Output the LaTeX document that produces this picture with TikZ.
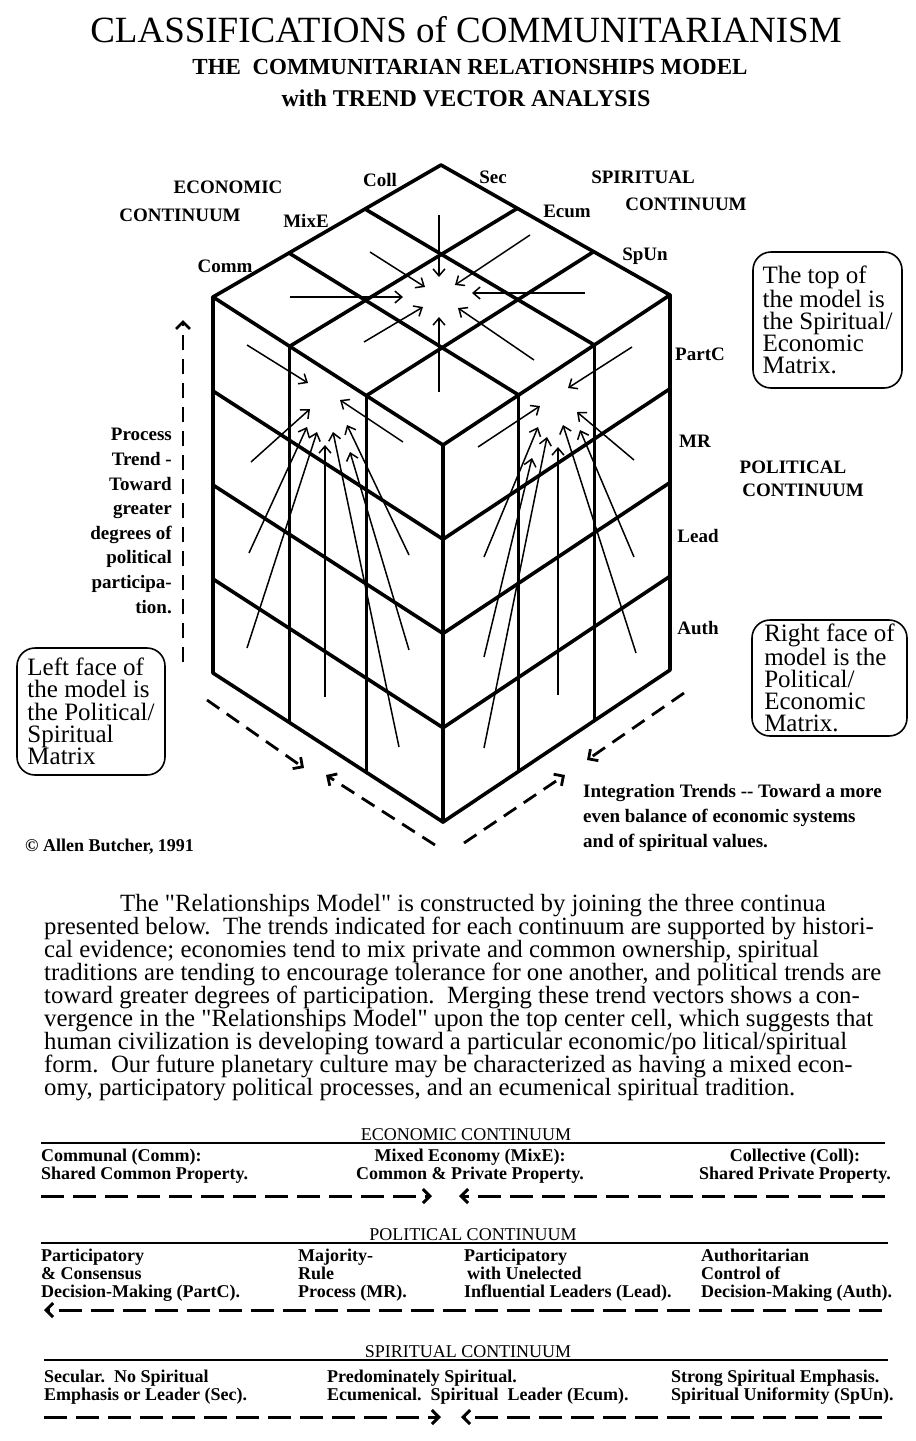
\documentclass[tikz,border=0pt]{standalone}
\usepackage{fontspec}
\setmainfont{Liberation Serif}
\usetikzlibrary{arrows.meta,positioning,calc}

\newcommand{\fsz}[2]{\fontsize{#1}{#2}\selectfont}
\newcommand{\dq}{\textquotedbl}

\begin{document}
\begin{tikzpicture}[x=1pt, y=-1pt,
  edge/.style={line width=3.6pt, line cap=round, line join=round},
  vec/.style={line width=1.5pt, -{Straight Barb[length=7pt, width=12pt]}},
  trend/.style={line width=2.8pt, dash pattern=on 15pt off 9pt,
                -{Straight Barb[length=7pt, width=14pt]}},
  flow/.style={trend, line width=3pt, dash pattern=on 23pt off 9pt},
  lbl/.style={font=\fsz{19}{24.6}\bfseries, inner sep=0pt},
  note/.style={draw, line width=1.6pt, rounded corners=18pt, align=left,
               font=\fsz{25}{22.2}, inner sep=0pt},
  head/.style={font=\fsz{18}{20}, inner sep=0pt},
  item/.style={font=\fsz{18}{18}\bfseries, inner sep=0pt, align=left},
  rule/.style={line width=2.6pt}
]
\useasboundingbox (0,0) rectangle (916,1441);

% titles
\node[font=\fsz{37}{40}, inner sep=0pt] (title) at (466,30) {CLASSIFICATIONS of COMMUNITARIANISM};
\node[font=\fsz{23}{26}\bfseries, inner sep=0pt] (sub1) at (470,67) {THE\ \ COMMUNITARIAN RELATIONSHIPS MODEL};
\node[font=\fsz{24}{26}\bfseries, inner sep=0pt] (sub2) at (466,98) {with TREND VECTOR ANALYSIS};

% cube corners
\coordinate (T)  at (441,165);
\coordinate (L)  at (213,297);
\coordinate (R)  at (670,295);
\coordinate (F)  at (443,445);
\coordinate (LB) at (213,673);
\coordinate (RB) at (670,670);
\coordinate (FB) at (443,822);

\draw[edge] (T) -- (L) -- (LB) -- (FB) -- (RB) -- (R) -- cycle;
\draw[edge] (L) -- (F) -- (R) (F) -- (FB);
\foreach \k in {1,2} {
  \draw[edge] ($(T)!\k/3!(L)$) -- ($(R)!\k/3!(F)$);
  \draw[edge] ($(T)!\k/3!(R)$) -- ($(L)!\k/3!(F)$);
  \draw[edge] ($(L)!\k/3!(F)$) -- ($(LB)!\k/3!(FB)$);
  \draw[edge] ($(F)!\k/3!(R)$) -- ($(FB)!\k/3!(RB)$);
}
\foreach \k in {1,2,3}
  \draw[edge] ($(L)!\k/4!(LB)$) -- ($(F)!\k/4!(FB)$) -- ($(R)!\k/4!(RB)$);

% trend vectors: top, left and right faces
\foreach \xa/\ya/\xb/\yb in {439/215/439/277, 370/252/425/287, 530/235/455/285,
    290/297/403/297, 585/293/472/293, 364/342/423/307, 439/392/439/317, 534/360/458/308,
    247/345/308/383, 251/462/310/409, 249/553/307/427, 247/648/317/432, 325/697/325/445,
    399/747/333/432, 409/650/350/452, 409/555/347/425, 403/442/340/400,
    632/347/568/388, 634/460/577/412, 634/557/580/430, 636/653/563/425, 558/695/558/447,
    484/748/547/437, 484/657/532/458, 484/557/538/427, 478/447/540/406}
  \draw[vec] (\xa,\ya) -- (\xb,\yb);

% integration and process trends
\draw[trend] (207,700) -- (304,768);
\draw[trend] (435,845) -- (326,775);
\draw[trend] (684,693) -- (587,760);
\draw[trend] (464,843) -- (565,775);
\draw[trend] (183,662) -- (183,320);

% continuum labels
\node[lbl] (econA) at (228,187) {ECONOMIC};
\node[lbl] (econB) at (180,215) {CONTINUUM};
\node[lbl] (coll)  at (380,180) {Coll};
\node[lbl] (sec)   at (493,177) {Sec};
\node[lbl] (spirA) at (643,177) {SPIRITUAL};
\node[lbl] (spirB) at (686,204) {CONTINUUM};
\node[lbl] (mixe)  at (306,221) {MixE};
\node[lbl] (ecum)  at (567,211) {Ecum};
\node[lbl] (comm)  at (225,266) {Comm};
\node[lbl] (spun)  at (645,256) {SpUn};
\node[lbl] (partc) at (700,354) {PartC};
\node[lbl] (mr)    at (695,441) {MR};
\node[lbl] (lead)  at (698,536) {Lead};
\node[lbl] (auth)  at (698,628) {Auth};
\node[lbl] (polA)  at (793,467) {POLITICAL};
\node[lbl] (polB)  at (803,490) {CONTINUUM};

\node[lbl, align=right, anchor=east] (proc) at (172,521)
  {Process\\Trend -\\Toward\\greater\\degrees of\\political\\participa-\\tion.};
\node[lbl, align=left, anchor=west] (integ) at (583,818)
  {Integration Trends -{}- Toward a more\\even balance of economic systems\\and of spiritual values.};
\node[lbl, font=\fsz{18}{20}\bfseries, anchor=west] (copy) at (25,847) {© Allen Butcher, 1991};

\node[note, minimum width=149pt, minimum height=136pt] (topnote) at (827.5,320)
  {The top of\\the model is\\the Spiritual/\\Economic\\Matrix.};
\node[note, minimum width=155pt, minimum height=116pt] (rightnote) at (829.5,678)
  {Right face of\\model is the\\Political/\\Economic\\Matrix.};
\node[note, minimum width=148pt, minimum height=127pt] (leftnote) at (91,711.5)
  {Left face of\\the model is\\the Political/\\Spiritual\\Matrix};

% text
\node[font=\fsz{24.8}{23}, align=left, inner sep=0pt, anchor=north west] (para) at (44,894)
  {\hspace*{76pt}The \dq Relationships Model\dq{} is constructed by joining the three continua\\
   presented below.\ \ The trends indicated for each continuum are supported by histori-\\
   cal evidence; economies tend to mix private and common ownership, spiritual\\
   traditions are tending to encourage tolerance for one another, and political trends are\\
   toward greater degrees of participation.\ \ Merging these trend vectors shows a con-\\
   vergence in the \dq Relationships Model\dq{} upon the top center cell, which suggests that\\
   human civilization is developing toward a particular economic/po litical/spiritual\\
   form.\ \ Our future planetary culture may be characterized as having a mixed econ-\\
   omy, participatory political processes, and an ecumenical spiritual tradition.};

% economic continuum
\node[head] (econhead) at (466,1135) {ECONOMIC CONTINUUM};
\draw[rule] (41,1143) -- (885,1143);
\node[item, anchor=west] (ec1) at (41,1166.5) {Communal (Comm):\\Shared Common Property.};
\node[item, align=center] (ec2) at (470,1166.5) {Mixed Economy (MixE):\\Common \& Private Property.};
\node[item, align=center] (ec3) at (795,1166.5) {Collective (Coll):\\Shared Private Property.};
\draw[flow] (41,1196) -- (432,1196);
\draw[flow] (885,1196) -- (459,1196);

% political continuum
\node[head] (polhead) at (473,1235) {POLITICAL CONTINUUM};
\draw[rule] (41,1243) -- (888,1243);
\node[item, anchor=west] (pc1) at (41,1275) {Participatory\\\& Consensus\\Decision-Making (PartC).};
\node[item, anchor=west] (pc2) at (298,1275) {Majority-\\Rule\\Process (MR).};
\node[item, anchor=west] (pc3) at (464,1275) {Participatory\\\hspace*{3pt}with Unelected\\Influential Leaders (Lead).};
\node[item, anchor=west] (pc4) at (701,1275) {Authoritarian\\Control of\\Decision-Making (Auth).};
\draw[flow] (882,1310) -- (44,1310);

% spiritual continuum
\node[head] (spirhead) at (468,1352) {SPIRITUAL CONTINUUM};
\draw[rule] (44,1360) -- (888,1360);
\node[item, anchor=west] (sc1) at (44,1387) {Secular.\ \ No Spiritual\\Emphasis or Leader (Sec).};
\node[item, anchor=west] (sc2) at (327,1387) {Predominately Spiritual.\\Ecumenical.\ \ Spiritual\ \ Leader (Ecum).};
\node[item, anchor=west] (sc3) at (671,1387) {Strong Spiritual Emphasis.\\Spiritual Uniformity (SpUn).};
\draw[flow] (44,1417) -- (441,1417);
\draw[flow] (882,1417) -- (461,1417);
\end{tikzpicture}
\end{document}
